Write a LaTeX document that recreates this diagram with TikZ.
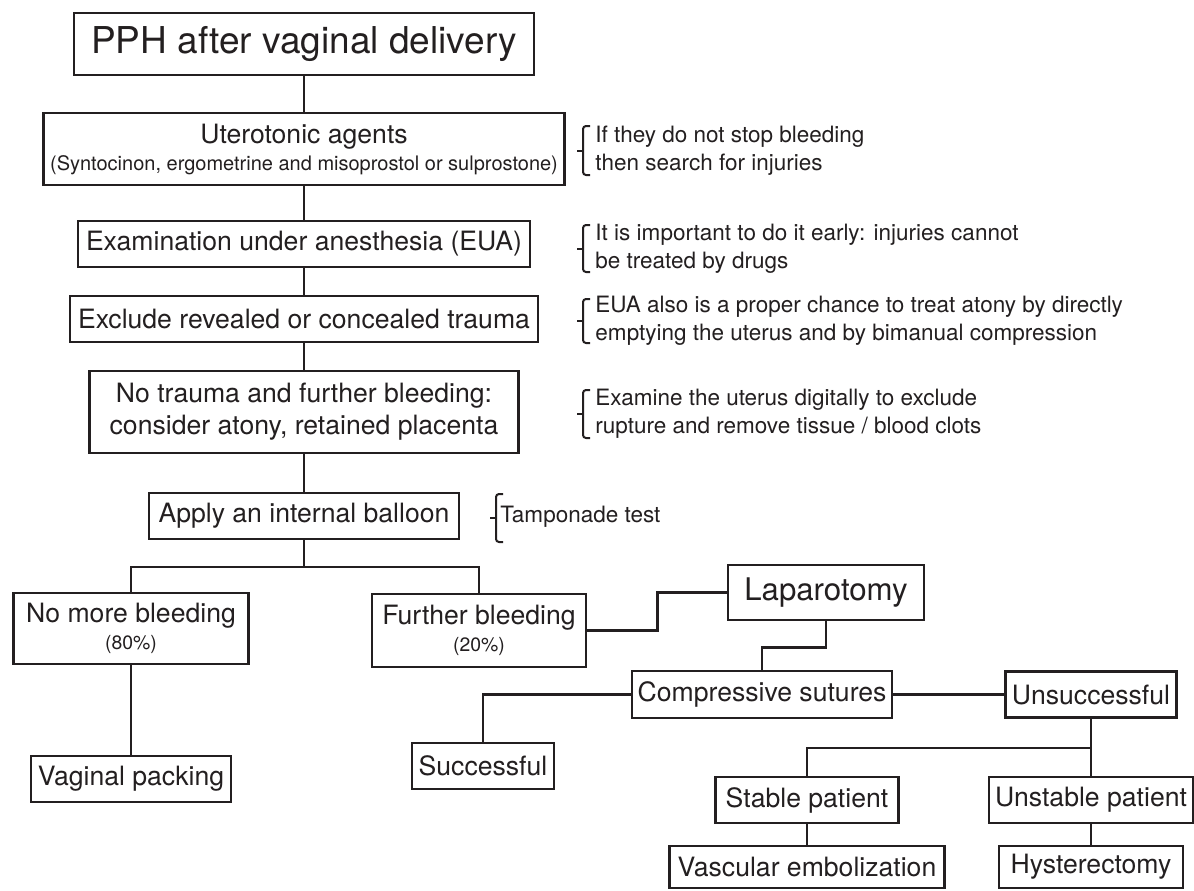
\documentclass[tikz,border=0pt]{standalone}
\usepackage{fontspec}
\setmainfont{TeX Gyre Heros}
\definecolor{ink}{RGB}{35,31,32}
\begin{document}
\begin{tikzpicture}[x=0.5pt,y=-0.5pt,
  bx/.style={draw=ink, line width=1.25pt, inner sep=0pt, align=center, text=ink, font=\fontsize{13.3}{16}\selectfont},
  conn/.style={draw=ink, line width=1.25pt},
  brkline/.style={draw=ink, line width=1pt},
  note/.style={anchor=west, align=left, text=ink, inner sep=0pt, font=\fontsize{11.25}{14}\selectfont},
  pics/brk/.style={code={
    \draw[brkline, rounded corners=1.5pt] (7,-#1/2) -- (0,-#1/2) -- (0,#1/2) -- (7,#1/2);
    \draw[brkline] (0,0) -- (-6,0);}}
]
\fill[white] (0,0) rectangle (1194,890);
\useasboundingbox (0,0) rectangle (1194,890);

% main column
\node[bx, minimum width=230pt, minimum height=31pt, font=\fontsize{18.5}{22}\selectfont] (pph) at (304,44) {PPH after vaginal delivery};
\node[bx, minimum width=260.5pt, minimum height=36pt] (ute) at (304,149)
  {Uterotonic agents\\[-2.5pt]{\fontsize{10}{11}\selectfont (Syntocinon, ergometrine and misoprostol or sulprostone)}};
\node[bx, minimum width=226pt, minimum height=23pt] (exam) at (304,244) {Examination under anesthesia (EUA)};
\node[bx, minimum width=234pt, minimum height=23pt] (excl) at (304,319) {Exclude revealed or concealed trauma};
\node[bx, minimum width=214.5pt, minimum height=41pt] (notr) at (304,412) {No trauma and further bleeding:\\consider atony, retained placenta};
\node[bx, minimum width=155pt, minimum height=23pt] (app) at (304,516) {Apply an internal balloon};

% lower part
\node[bx, minimum width=117.5pt, minimum height=35.5pt] (nomore) at (131,628.5) {No more bleeding\\[-2.5pt]{\fontsize{9.7}{11}\selectfont (80\%)}};
\node[bx, minimum width=100pt, minimum height=23pt] (vag) at (131,779) {Vaginal packing};
\node[bx, minimum width=107pt, minimum height=36.5pt] (fur) at (479,630.5) {Further bleeding\\[-2.5pt]{\fontsize{9.7}{11}\selectfont (20\%)}};
\node[bx, minimum width=98pt, minimum height=27.5pt, font=\fontsize{15.6}{18}\selectfont] (lap) at (826,592.5) {Laparotomy};
\node[bx, minimum width=130pt, minimum height=23.5pt] (comp) at (762,694.5) {Compressive sutures};
\node[bx, minimum width=85.5pt, minimum height=23pt] (uns) at (1091,694.5) {Unsuccessful};
\node[bx, minimum width=71pt, minimum height=23pt] (suc) at (483,766) {Successful};
\node[bx, minimum width=91.5pt, minimum height=23pt] (stab) at (807,800) {Stable patient};
\node[bx, minimum width=102pt, minimum height=23pt] (unst) at (1091,800) {Unstable patient};
\node[bx, minimum width=137.5pt, minimum height=21pt] (vasc) at (807,867) {Vascular embolization};
\node[bx, minimum width=92pt, minimum height=21pt] (hyst) at (1091,867) {Hysterectomy};

% connectors
\draw[conn] (pph.south) -- (ute.north);
\draw[conn] (ute.south) -- (exam.north);
\draw[conn] (exam.south) -- (excl.north);
\draw[conn] (excl.south) -- (notr.north);
\draw[conn] (notr.south) -- (app.north);
\coordinate (br) at (304,567);
\draw[conn] (app.south) -- (br);
\draw[conn] (nomore.north) |- (br) -| (fur.north);
\draw[conn] (nomore.south) -- (vag.north);
\draw[conn] (fur.east) -- ++(70,0) |- (lap.west);
\draw[conn] (lap.south) -- ++(0,26) -| (comp.north);
\draw[conn] (comp.east) -- (uns.west);
\draw[conn] (comp.west) -| (suc.north);
\coordinate (ub) at (1091,748);
\draw[conn] (uns.south) -- (ub) -- (unst.north);
\draw[conn] (ub) -| (stab.north);
\draw[conn] (stab.south) -- (vasc.north);
\draw[conn] (unst.south) -- (hyst.north);

% notes
\node[note] (n1) at (595,150.5) {If they do not stop bleeding\\then search for injuries};
\pic at (583,150.5) {brk=49};
\node[note] (n2) at (595,248.5) {It is important to do it early: injuries cannot\\be treated by drugs};
\pic at (583,248.5) {brk=47};
\node[note] (n3) at (595,321) {EUA also is a proper chance to treat atony by directly\\emptying the uterus and by bimanual compression};
\pic at (583,321) {brk=44};
\node[note] (n4) at (595,414) {Examine the uterus digitally to exclude\\rupture and remove tissue / blood clots};
\pic at (583,414) {brk=48};
\node[note] (n5) at (500,517) {Tamponade test};
\pic at (496,518) {brk=48};
\end{tikzpicture}
\end{document}
